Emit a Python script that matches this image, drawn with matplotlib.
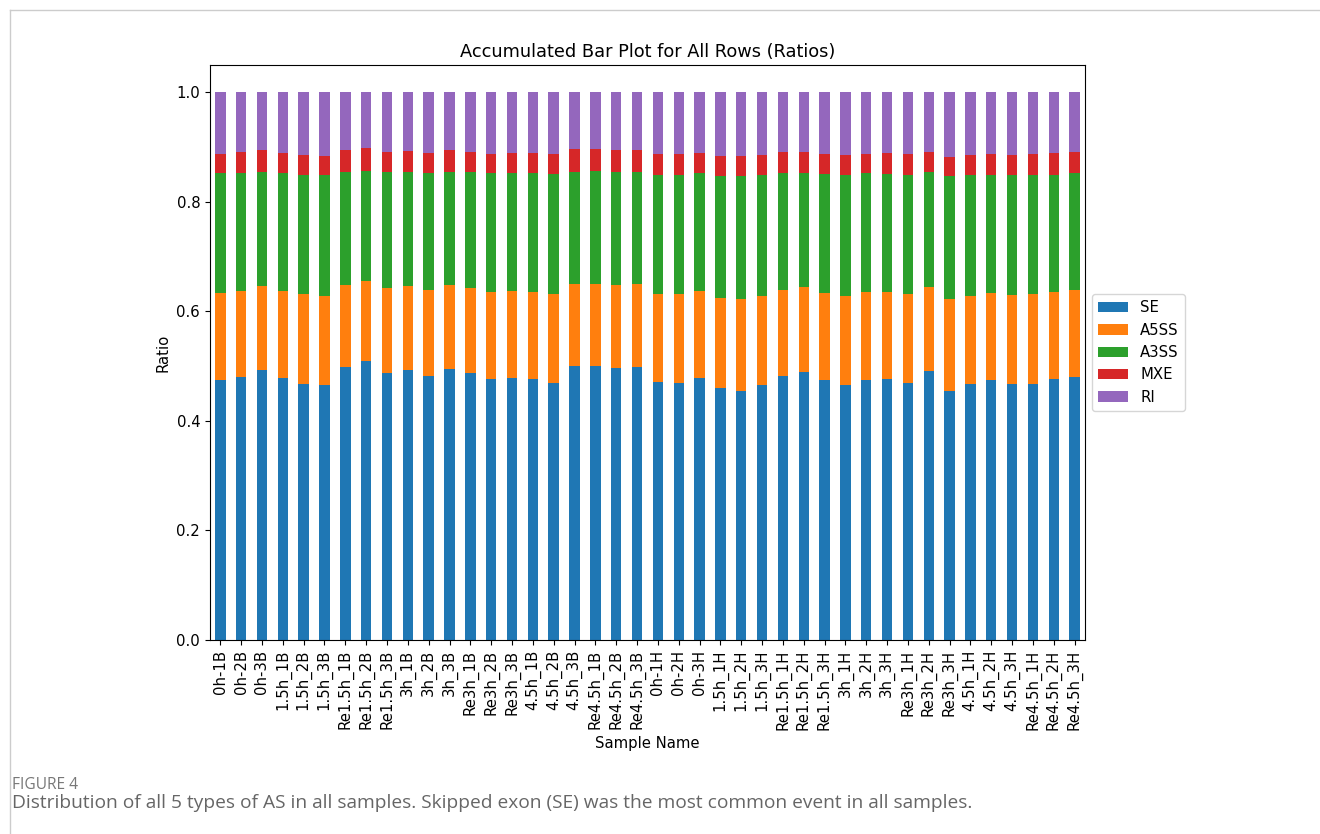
import numpy as np
import pandas as pd
import matplotlib
matplotlib.use("Agg")
import matplotlib.pyplot as plt

samples = ["0h-1B", "0h-2B", "0h-3B", "1.5h_1B", "1.5h_2B", "1.5h_3B",
           "Re1.5h_1B", "Re1.5h_2B", "Re1.5h_3B", "3h_1B", "3h_2B", "3h_3B",
           "Re3h_1B", "Re3h_2B", "Re3h_3B", "4.5h_1B", "4.5h_2B", "4.5h_3B",
           "Re4.5h_1B", "Re4.5h_2B", "Re4.5h_3B",
           "0h-1H", "0h-2H", "0h-3H", "1.5h_1H", "1.5h_2H", "1.5h_3H",
           "Re1.5h_1H", "Re1.5h_2H", "Re1.5h_3H", "3h_1H", "3h_2H", "3h_3H",
           "Re3h_1H", "Re3h_2H", "Re3h_3H", "4.5h_1H", "4.5h_2H", "4.5h_3H",
           "Re4.5h_1H", "Re4.5h_2H", "Re4.5h_3H"]

# ratio of each AS event type per sample
se = [0.474, 0.480, 0.494, 0.479, 0.468, 0.465, 0.498, 0.509, 0.488, 0.493, 0.482,
      0.495, 0.487, 0.476, 0.479, 0.476, 0.469, 0.501, 0.500, 0.497, 0.498,
      0.472, 0.470, 0.478, 0.461, 0.455, 0.465, 0.482, 0.490, 0.475, 0.465,
      0.475, 0.476, 0.470, 0.491, 0.455, 0.467, 0.474, 0.467, 0.468, 0.477, 0.480]
a5ss = [0.160, 0.158, 0.153, 0.158, 0.163, 0.164, 0.150, 0.147, 0.155, 0.154, 0.157,
        0.153, 0.156, 0.160, 0.158, 0.159, 0.162, 0.149, 0.151, 0.151, 0.152,
        0.159, 0.161, 0.159, 0.164, 0.167, 0.163, 0.157, 0.154, 0.159, 0.163,
        0.160, 0.160, 0.161, 0.154, 0.167, 0.162, 0.160, 0.163, 0.163, 0.159, 0.159]
a3ss = [0.218, 0.214, 0.207, 0.215, 0.218, 0.220, 0.207, 0.200, 0.212, 0.208, 0.213,
        0.207, 0.211, 0.216, 0.215, 0.217, 0.220, 0.204, 0.205, 0.207, 0.205,
        0.219, 0.219, 0.215, 0.223, 0.225, 0.221, 0.213, 0.209, 0.217, 0.221,
        0.217, 0.215, 0.218, 0.209, 0.226, 0.220, 0.216, 0.219, 0.218, 0.214, 0.213]
mxe = [0.035, 0.039, 0.040, 0.037, 0.037, 0.035, 0.040, 0.042, 0.037, 0.038, 0.038,
       0.040, 0.038, 0.036, 0.038, 0.037, 0.036, 0.042, 0.040, 0.040, 0.040,
       0.037, 0.037, 0.037, 0.036, 0.036, 0.037, 0.039, 0.039, 0.036, 0.036,
       0.035, 0.038, 0.038, 0.038, 0.034, 0.037, 0.037, 0.037, 0.038, 0.039, 0.039]
ri = [0.113, 0.109, 0.106, 0.111, 0.114, 0.116, 0.105, 0.102, 0.108, 0.107, 0.110,
      0.105, 0.108, 0.112, 0.110, 0.111, 0.113, 0.104, 0.104, 0.105, 0.105,
      0.113, 0.113, 0.111, 0.116, 0.117, 0.114, 0.109, 0.108, 0.113, 0.115,
      0.113, 0.111, 0.113, 0.108, 0.118, 0.114, 0.113, 0.114, 0.113, 0.111, 0.109]

df = pd.DataFrame({"SE": se, "A5SS": a5ss, "A3SS": a3ss, "MXE": mxe, "RI": ri},
                  index=samples)

fig = plt.figure(figsize=(13.2, 8.34), dpi=100)
ax = fig.add_axes([0.159, 0.2326, 0.663, 0.6894])
df.plot(kind="bar", stacked=True, ax=ax)
ax.set_ylim(0, 1.05)
ax.set_title("Accumulated Bar Plot for All Rows (Ratios)", fontsize=12.8)
ax.set_xlabel("Sample Name", fontsize=10.7)
ax.set_ylabel("Ratio", fontsize=10.7)
ax.tick_params(labelsize=10.7)
ax.legend(loc="center left", bbox_to_anchor=(1.0, 0.5), fontsize=10.7)

# page frame lines and figure caption
fig.add_artist(plt.Line2D([10 / 1320, 1], [1 - 10 / 834, 1 - 10 / 834],
                          color="#cccccc", lw=1))
fig.add_artist(plt.Line2D([10 / 1320, 10 / 1320], [0, 1 - 10 / 834],
                          color="#cccccc", lw=1))
fig.text(12 / 1320, 1 - 785 / 834, "FIGURE 4", fontsize=11.2, color="#777777",
         family="Open Sans", va="center")
fig.text(12 / 1320, 1 - 803 / 834,
         "Distribution of all 5 types of AS in all samples. Skipped exon (SE) was the most common event in all samples.",
         fontsize=13.8, color="#666666", family="Open Sans", va="center")

fig.savefig("out.png", dpi=100)
